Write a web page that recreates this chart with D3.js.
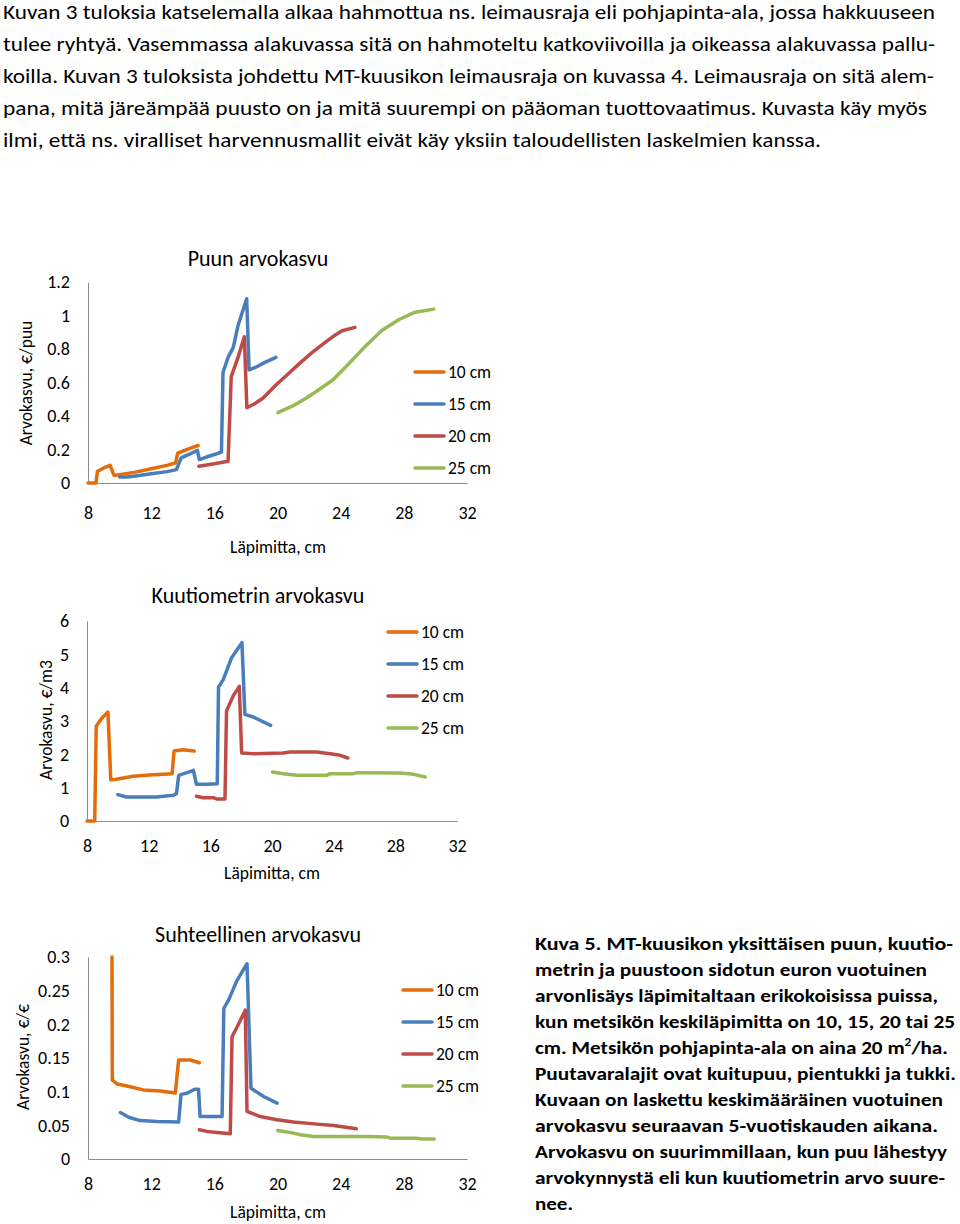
<!DOCTYPE html>
<html><head><meta charset="utf-8">
<script src="https://cdn.jsdelivr.net/npm/d3@7"></script>
<style>
html,body{margin:0;padding:0;background:#fff;}
svg{display:block;font-family:Carlito,Calibri,Lato,sans-serif;}
</style></head>
<body>
<svg id="c" width="960" height="1224"></svg>
<script>
// ---------- Data ----------
const xTicks = [8, 12, 16, 20, 24, 28, 32];
const seriesLabels = ["10 cm", "15 cm", "20 cm", "25 cm"];
const seriesColors = ["#E46C0A", "#4A7EBB", "#BE4B48", "#98B954"];

// Chart 1: Puun arvokasvu (€/puu), [diameter cm, value]
const puuTicks = [0, 0.2, 0.4, 0.6, 0.8, 1, 1.2];
const puu10 = [[8,0],[8.5,0],[8.6,0.07],[9.0,0.09],[9.4,0.105],[9.65,0.045],[10,0.05],[11,0.065],[12,0.085],[13,0.105],[13.55,0.12],[13.68,0.178],[14,0.19],[14.5,0.208],[14.97,0.224]];
const puu15 = [[10,0.036],[10.5,0.036],[11,0.042],[12,0.055],[13,0.068],[13.6,0.08],[13.9,0.15],[14.5,0.175],[14.93,0.195],[15.05,0.14],[15.5,0.155],[16,0.17],[16.45,0.185],[16.55,0.66],[16.87,0.75],[17.2,0.81],[17.5,0.94],[18.05,1.10],[18.2,0.675],[18.6,0.69],[19.2,0.72],[19.9,0.75]];
const puu20 = [[15.02,0.1],[16,0.115],[16.87,0.13],[17.07,0.635],[17.5,0.75],[17.9,0.873],[18.06,0.45],[18.5,0.47],[19.07,0.506],[19.9,0.585],[20.6,0.645],[21.4,0.714],[22.2,0.78],[23.06,0.843],[23.6,0.88],[24.1,0.909],[24.9,0.929]];
const puu25 = [[20.02,0.42],[20.96,0.46],[21.7,0.5],[22.43,0.545],[23.5,0.615],[24.5,0.71],[25.6,0.82],[26.6,0.91],[27.7,0.976],[28.7,1.02],[29.9,1.038]];

// Chart 2: Kuutiometrin arvokasvu (€/m3)
const m3Ticks = [0, 1, 2, 3, 4, 5, 6];
const m3_10 = [[8,0],[8.5,0],[8.6,2.84],[8.93,3.07],[9.36,3.27],[9.54,1.24],[9.9,1.25],[11.0,1.34],[12.07,1.38],[13.52,1.42],[13.65,2.10],[14.2,2.14],[14.95,2.10]];
const m3_15 = [[10.0,0.79],[10.55,0.72],[12.5,0.72],[13.59,0.77],[13.8,0.82],[13.95,1.37],[14.9,1.52],[15.1,1.10],[15.86,1.10],[16.45,1.12],[16.53,4.02],[16.84,4.24],[17.38,4.9],[18.05,5.35],[18.24,3.2],[18.78,3.12],[19.91,2.87]];
const m3_20 = [[15.1,0.74],[15.53,0.70],[16.2,0.70],[16.4,0.66],[16.95,0.66],[17.05,3.30],[17.5,3.77],[17.88,4.04],[18.03,2.04],[18.78,2.02],[20.73,2.04],[21.17,2.07],[22.9,2.07],[23.77,2.02],[24.42,1.97],[24.92,1.89]];
const m3_25 = [[20.04,1.47],[20.73,1.42],[21.6,1.37],[23.55,1.37],[23.77,1.42],[25.28,1.42],[25.5,1.45],[28.3,1.44],[29.2,1.40],[29.94,1.32]];

// Chart 3: Suhteellinen arvokasvu (€/€)
const relTicks = [0, 0.05, 0.1, 0.15, 0.2, 0.25, 0.3];
const rel10 = [[9.52,0.30],[9.54,0.117],[9.84,0.1115],[10.47,0.1085],[11.5,0.1026],[12.58,0.101],[13.53,0.098],[13.74,0.147],[14.48,0.147],[15.05,0.143]];
const rel15 = [[10.05,0.069],[10.58,0.062],[11.3,0.057],[12.37,0.0557],[13.74,0.0548],[13.89,0.096],[14.27,0.0977],[14.75,0.1036],[15.0,0.1036],[15.1,0.063],[16.49,0.063],[16.6,0.2235],[16.9,0.236],[17.43,0.265],[18.07,0.29],[18.32,0.105],[19.12,0.0928],[19.97,0.0829]];
const rel20 = [[15.05,0.0434],[15.54,0.041],[16.17,0.0395],[17.01,0.0375],[17.12,0.1816],[17.44,0.196],[17.96,0.221],[18.07,0.0706],[18.91,0.063],[19.97,0.0582],[21.0,0.0548],[22.5,0.0518],[23.56,0.0498],[24.99,0.0449]];
const rel25 = [[20.01,0.0424],[20.81,0.0395],[21.45,0.036],[22.29,0.0335],[25.67,0.0335],[26.93,0.0326],[27.14,0.031],[28.83,0.031],[29.15,0.0296],[29.93,0.0296]];

// Texts
const introLines = [
  "Kuvan 3 tuloksia katselemalla alkaa hahmottua ns. leimausraja eli pohjapinta-ala, jossa hakkuuseen",
  "tulee ryhtyä. Vasemmassa alakuvassa sitä on hahmoteltu katkoviivoilla ja oikeassa alakuvassa pallu-",
  "koilla. Kuvan 3 tuloksista johdettu MT-kuusikon leimausraja on kuvassa 4. Leimausraja on sitä alem-",
  "pana, mitä järeämpää puusto on ja mitä suurempi on pääoman tuottovaatimus. Kuvasta käy myös",
  "ilmi, että ns. viralliset harvennusmallit eivät käy yksiin taloudellisten laskelmien kanssa."
];
const captionLines = [
  "Kuva 5. MT-kuusikon yksittäisen puun, kuutio-",
  "metrin ja puustoon sidotun euron vuotuinen",
  "arvonlisäys läpimitaltaan erikokoisissa puissa,",
  "kun metsikön keskiläpimitta on 10, 15, 20 tai 25",
  "cm. Metsikön pohjapinta-ala on aina 20 m|2|/ha.",
  "Puutavaralajit ovat kuitupuu, pientukki ja tukki.",
  "Kuvaan on laskettu keskimääräinen vuotuinen",
  "arvokasvu seuraavan 5-vuotiskauden aikana.",
  "Arvokasvu on suurimmillaan, kun puu lähestyy",
  "arvokynnystä eli kun kuutiometrin arvo suure-",
  "nee."
];

// ---------- Drawing ----------
const FONT = "Carlito,Calibri,Lato,sans-serif";
const svg = d3.select("#c");
svg.append("rect").attr("width", 960).attr("height", 1224).attr("fill", "#fff");

// intro paragraph
const introRight = [935, 935, 934, 927, 821];
introLines.forEach((t, i) => {
  svg.append("text").attr("x", 3).attr("y", 19 + 32 * i)
    .attr("font-size", 20).attr("fill", "#000")
    .attr("textLength", introRight[i] - 3).attr("lengthAdjust", "spacingAndGlyphs")
    .text(t);
});

// caption
const capRight = [953, 927, 938, 955, 948, 956, 943, 938, 947, 945, 573];
captionLines.forEach((t, i) => {
  const tx = svg.append("text").attr("x", 535).attr("y", 950 + 26 * i)
    .attr("font-size", 19).attr("font-weight", "bold").attr("fill", "#000")
    .attr("textLength", capRight[i] - 535).attr("lengthAdjust", "spacingAndGlyphs");
  const parts = t.split("|");
  if (parts.length === 1) { tx.text(t); }
  else {
    tx.append("tspan").text(parts[0]);
    tx.append("tspan").attr("font-size", 12).attr("dy", -8).text(parts[1]);
    tx.append("tspan").attr("dy", 8).text(parts[2]);
  }
});

function drawChart(cfg) {
  const g = svg.append("g");
  const x = d3.scaleLinear().domain([8, 32]).range([cfg.x0, cfg.x1]);
  const y = d3.scaleLinear().domain([0, cfg.yMax]).range([cfg.yBottom, cfg.yTop]);

  const xa = g.append("g").attr("transform", `translate(0,${cfg.yBottom})`)
    .call(d3.axisBottom(x).tickValues(xTicks).tickSize(0).tickFormat(d3.format("d")));
  xa.select(".domain").attr("stroke", "#8c8c8c");
  xa.selectAll("text").attr("dy", null).attr("y", cfg.xLabOff)
    .attr("dominant-baseline", "central").attr("font-size", 18)
    .attr("font-family", FONT).attr("fill", "#000");

  const ya = g.append("g").attr("transform", `translate(${cfg.x0},0)`)
    .call(d3.axisLeft(y).tickValues(cfg.ticks).tickSize(0).tickPadding(18).tickFormat(d => String(d)));
  ya.select(".domain").attr("stroke", "#8c8c8c");
  ya.selectAll("text").attr("font-size", 18)
    .attr("font-family", FONT).attr("fill", "#000");

  const line = d3.line().x(d => x(d[0])).y(d => y(d[1]));
  cfg.series.forEach((s, i) => {
    g.append("path").datum(s).attr("d", line)
      .attr("fill", "none").attr("stroke", seriesColors[i])
      .attr("stroke-width", 3.5).attr("stroke-linejoin", "round").attr("stroke-linecap", "round");
  });

  g.append("text").attr("x", cfg.titleX).attr("y", cfg.titleY)
    .attr("text-anchor", "middle").attr("dominant-baseline", "central")
    .attr("font-size", 22).attr("fill", "#000").text(cfg.title);
  g.append("text").attr("x", cfg.xtX).attr("y", cfg.xtY)
    .attr("text-anchor", "middle").attr("dominant-baseline", "central")
    .attr("font-size", 17.5).attr("fill", "#000").text("Läpimitta, cm");
  g.append("text").attr("transform", `translate(${cfg.ytX},${cfg.ytY}) rotate(-90)`)
    .attr("text-anchor", "middle").attr("dominant-baseline", "central")
    .attr("font-size", 17.5).attr("fill", "#000").text(cfg.yTitle);

  seriesLabels.forEach((lab, i) => {
    const ly = cfg.legY + 32 * i;
    g.append("line").attr("x1", cfg.legX).attr("x2", cfg.legX + 29)
      .attr("y1", ly).attr("y2", ly).attr("stroke", seriesColors[i])
      .attr("stroke-width", 3.5).attr("stroke-linecap", "round");
    g.append("text").attr("x", cfg.legX + 33).attr("y", ly)
      .attr("dominant-baseline", "central").attr("font-size", 17.5)
      .attr("fill", "#000").text(lab);
  });
}

drawChart({
  x0: 88, x1: 467, yBottom: 483, yTop: 282, yMax: 1.2, ticks: puuTicks,
  series: [puu10, puu15, puu20, puu25], xLabOff: 30,
  title: "Puun arvokasvu", titleX: 258, titleY: 258,
  xtX: 278, xtY: 547, yTitle: "Arvokasvu, €/puu", ytX: 26, ytY: 383,
  legX: 415, legY: 372
});
drawChart({
  x0: 87, x1: 457, yBottom: 821, yTop: 621, yMax: 6, ticks: m3Ticks,
  series: [m3_10, m3_15, m3_20, m3_25], xLabOff: 25,
  title: "Kuutiometrin arvokasvu", titleX: 258, titleY: 595,
  xtX: 272, xtY: 873, yTitle: "Arvokasvu, €/m3", ytX: 46, ytY: 720,
  legX: 388, legY: 632
});
drawChart({
  x0: 88, x1: 467, yBottom: 1159, yTop: 957, yMax: 0.3, ticks: relTicks,
  series: [rel10, rel15, rel20, rel25], xLabOff: 25,
  title: "Suhteellinen arvokasvu", titleX: 258, titleY: 934,
  xtX: 278, xtY: 1212, yTitle: "Arvokasvu, €/€", ytX: 23, ytY: 1057,
  legX: 403, legY: 990
});
</script>
</body></html>
